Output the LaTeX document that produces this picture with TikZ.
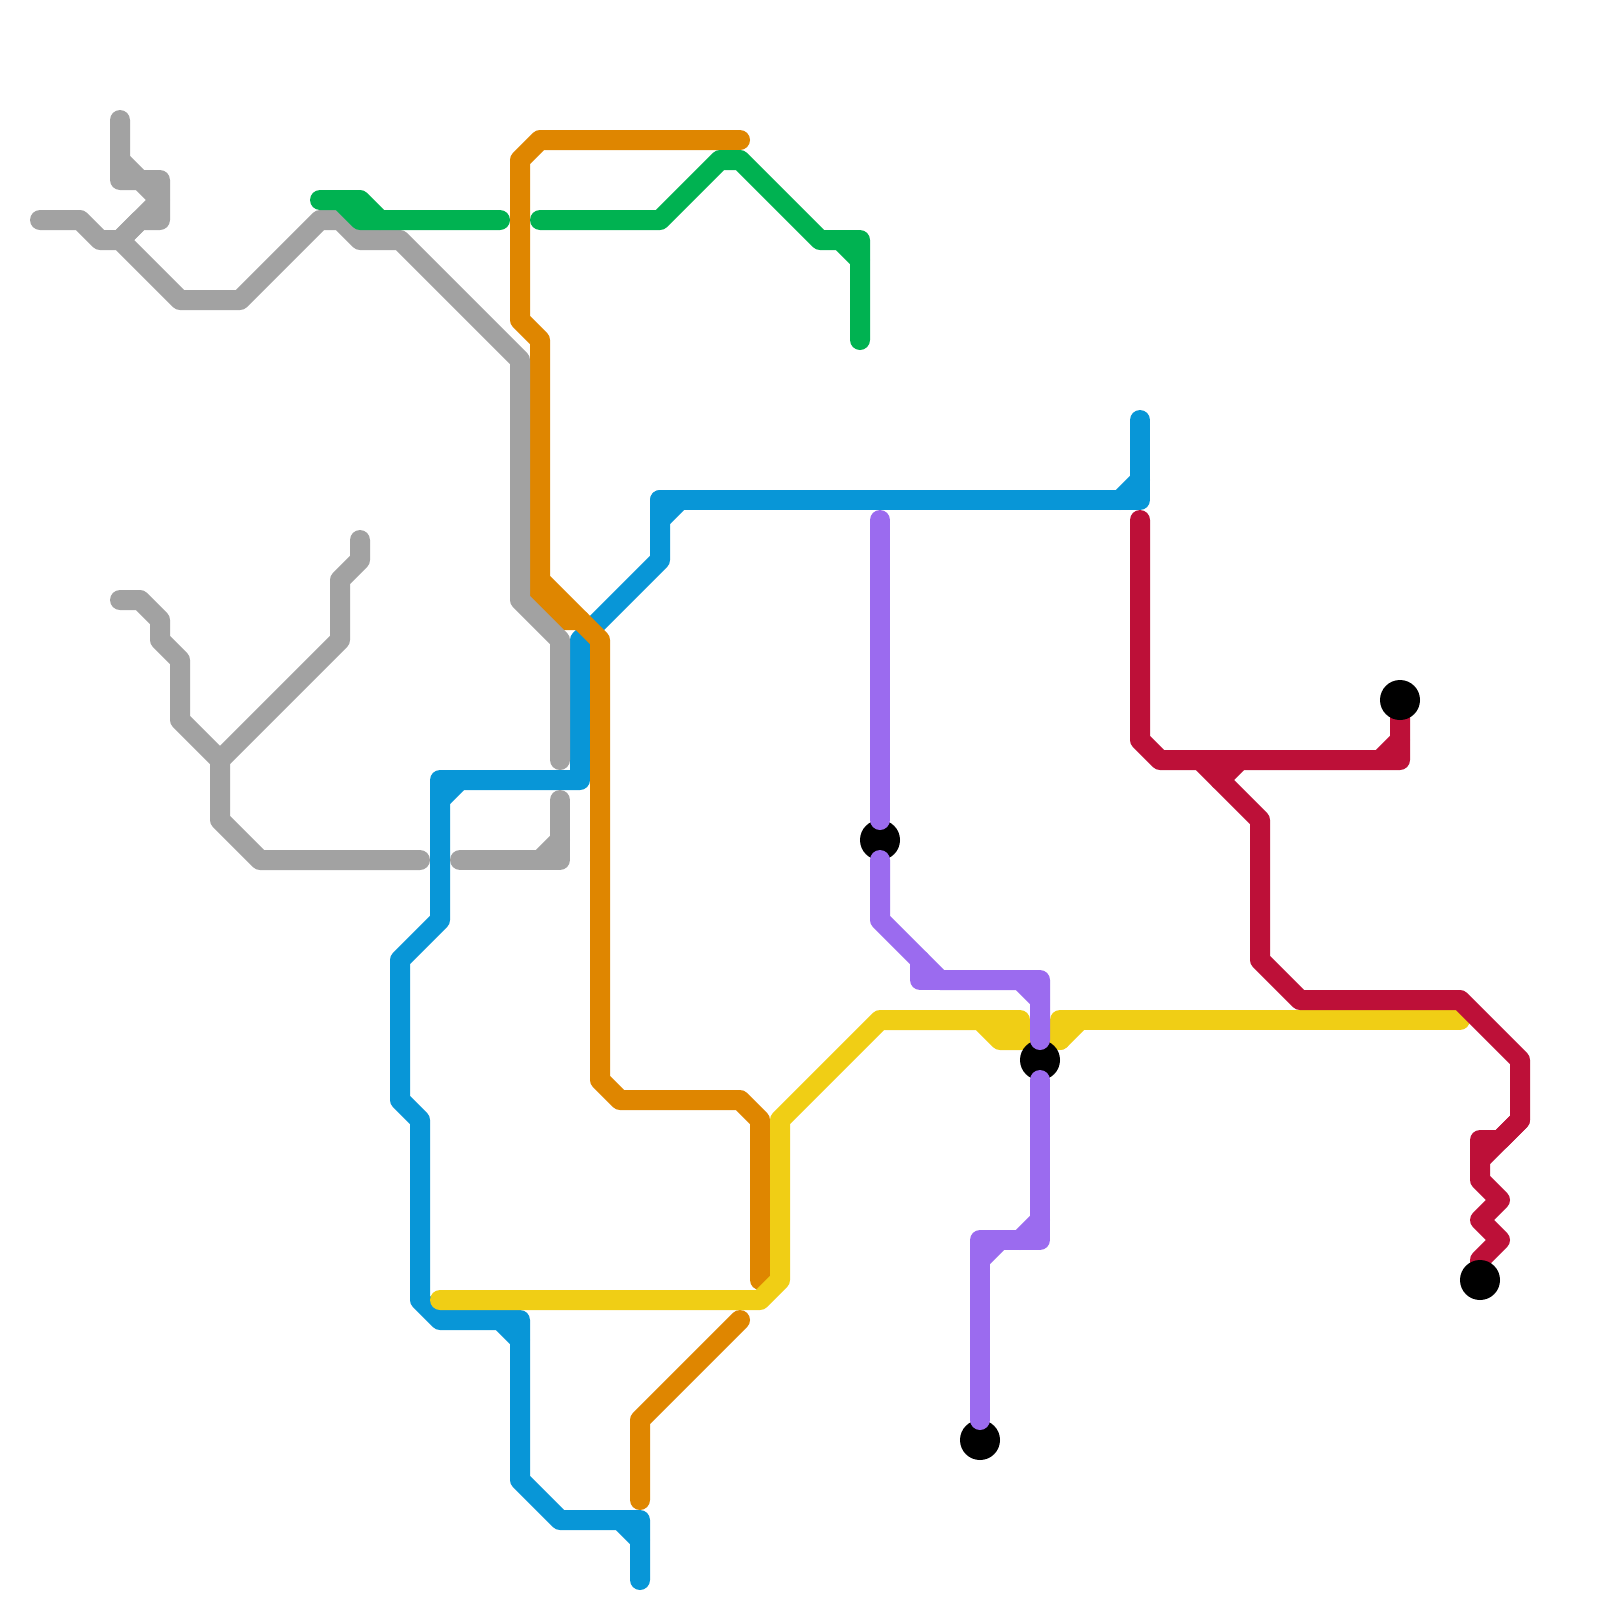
\documentclass[tikz,border=0pt]{standalone}
\definecolor{lgray}{HTML}{A2A2A2}
\definecolor{lgreen}{HTML}{00B251}
\definecolor{lorange}{HTML}{DF8600}
\definecolor{lblue}{HTML}{0896D7}
\definecolor{lyellow}{HTML}{F0CE15}
\definecolor{lpurple}{HTML}{9B6BEF}
\definecolor{lred}{HTML}{BD1038}
\tikzset{
  route/.style={line width=1cm,line cap=round,line join=round},
  stopdot/.style={circle,fill=black,draw=none,minimum size=2cm,inner sep=0pt,outer sep=0pt}
}
\begin{document}
\begin{tikzpicture}[x=1cm,y=-1cm]
\useasboundingbox (0,0) rectangle (80,80);
% blue
\draw[route,lblue] (33,25)--(33,28)--(29,32)--(29,39)--(22,39)--(22,46)--(20,48)--(20,55)--(21,56)--(21,65)--(22,66)--(26,66)--(26,74)--(28,76)--(32,76)--(32,79);
\draw[route,lblue] (22,40)--(23,39);
\draw[route,lblue] (25,66)--(26,67);
\draw[route,lblue] (31,76)--(32,77);
\draw[route,lblue] (33,26)--(34,25);
\draw[route,lblue] (33,25)--(57,25)--(57,21);
\draw[route,lblue] (56,25)--(57,24);
% orange
\draw[route,lorange] (37,7)--(27,7)--(26,8)--(26,16)--(27,17)--(27,29)--(30,32)--(30,54)--(31,55)--(37,55)--(38,56)--(38,64);
\draw[route,lorange] (27,29)--(27,30)--(28,31)--(29,31);
\draw[route,lorange] (37,66)--(32,71)--(32,75);
% gray
\draw[route,lgray] (2,11)--(4,11)--(5,12)--(6,12)--(9,15)--(12,15)--(16,11)--(17,11)--(18,12)--(20,12)--(26,18)--(26,30)--(28,32)--(28,38);
\draw[route,lgray] (6,6)--(6,9)--(8,9)--(8,11)--(7,11)--(6,12);
\draw[route,lgray] (6,8)--(8,10)--(6,12);
\draw[route,lgray] (6,30)--(7,30)--(8,31)--(8,32)--(9,33)--(9,36)--(11,38)--(11,41)--(13,43)--(21,43);
\draw[route,lgray] (11,38)--(17,32)--(17,29)--(18,28)--(18,27);
\draw[route,lgray] (23,43)--(28,43)--(28,40);
\draw[route,lgray] (27,43)--(28,42);
% green
\draw[route,lgreen] (16,10)--(18,10)--(19,11)--(25,11);
\draw[route,lgreen] (17,10)--(18,11)--(19,11);
\draw[route,lgreen] (27,11)--(33,11)--(36,8)--(37,8)--(41,12)--(43,12)--(43,17);
\draw[route,lgreen] (42,12)--(43,13);
% yellow
\draw[route,lyellow] (22,65)--(38,65)--(39,64)--(39,56)--(44,51)--(51,51)--(51,52)--(50,52)--(49,51);
\draw[route,lyellow] (73,51)--(53,51)--(53,52)--(51,52);
\draw[route,lyellow] (53,52)--(54,51);
% red
\draw[route,lred] (57,26)--(57,37)--(58,38)--(70,38)--(70,35);
\draw[route,lred] (69,38)--(70,37);
\draw[route,lred] (60,38)--(63,41)--(63,48)--(65,50)--(73,50)--(76,53)--(76,56)--(75,57)--(74,57)--(74,59)--(75,60)--(74,61)--(75,62)--(74,63)--(74,64);
\draw[route,lred] (62,38)--(61,39);
\draw[route,lred] (76,56)--(74,58);
% stops
\node[stopdot] (stopa) at (44,42) {};
\node[stopdot] (stopb) at (52,53) {};
\node[stopdot] (stopc) at (49,72) {};
\node[stopdot] (stopd) at (70,35) {};
\node[stopdot] (stope) at (74,64) {};
% purple
\draw[route,lpurple] (44,26)--(44,41);
\draw[route,lpurple] (44,43)--(44,46)--(47,49)--(52,49)--(52,52);
\draw[route,lpurple] (46,48)--(46,49)--(47,49);
\draw[route,lpurple] (51,49)--(52,50);
\draw[route,lpurple] (52,54)--(52,62)--(49,62)--(49,71);
\draw[route,lpurple] (51,62)--(52,61);
\draw[route,lpurple] (49,63)--(50,62);
\end{tikzpicture}
\end{document}
